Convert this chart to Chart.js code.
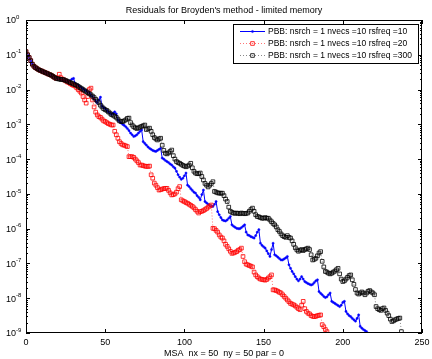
<!DOCTYPE html>
<html>
<head>
<meta charset="utf-8">
<script src="https://cdn.jsdelivr.net/npm/chart.js@4"></script>
<style>
  body { margin: 0; background: #fff; }
  canvas { display: block; }
</style>
</head>
<body>
<canvas id="resChart" width="432" height="359"></canvas>
<script>
// residual history, stored as log10(residual), one value per iteration
var logBlue = [
  -0.91,-1.00,-1.08,-1.17,-1.27,-1.33,-1.37,-1.40,-1.43,-1.45,-1.47,-1.49,-1.51,-1.53,-1.55,-1.57,-1.59,-1.62,-1.65,-1.68,-1.69,
  -1.70,-1.71,-1.72,-1.73,-1.74,-1.76,-1.78,-1.74,-1.70,-1.68,
  -1.82,-1.86,-1.88,-1.92,-1.95,-1.98,-2.01,-2.04,-2.07,-2.10,
  -2.15,-2.20,-2.27,-2.33,-2.38,-2.30,-2.22,-2.48,-2.52,-2.55,
  -2.60,-2.64,-2.68,-2.72,-2.68,-2.64,-2.70,-2.87,-2.92,-2.96,
  -3.00,-3.03,-3.07,-3.12,-3.18,-3.25,-3.30,-3.35,-3.33,-3.30,
  -3.25,-3.20,-3.16,-3.50,-3.55,-3.60,-3.65,-3.69,-3.72,-3.75,
  -3.77,-3.78,-3.75,-3.72,-3.69,-3.97,-4.00,-4.04,-4.07,-4.10,
  -4.14,-4.17,-4.22,-4.26,-4.35,-4.45,-4.52,-4.58,-4.55,-4.48,
  -4.40,-4.75,-4.79,-4.85,-4.90,-4.95,-4.98,-5.05,-5.10,-5.17,
  -5.02,-4.89,-5.22,-5.26,-5.30,-5.33,-5.36,-5.36,-5.30,-5.22,
  -5.51,-5.60,-5.68,-5.75,-5.77,-5.78,-5.75,-5.70,-5.65,-5.89,
  -5.93,-5.96,-5.99,-6.00,-6.00,-5.97,-5.93,-5.89,-6.10,-6.18,
  -6.20,-6.23,-6.25,-6.27,-6.20,-6.10,-6.03,-6.42,-6.48,-6.52,
  -6.56,-6.64,-6.72,-6.80,-6.60,-6.42,-6.75,-6.78,-6.82,-6.86,
  -6.90,-6.90,-6.87,-6.84,-6.80,-7.04,-7.14,-7.23,-7.30,-7.38,
  -7.45,-7.50,-7.45,-7.38,-7.45,-7.52,-7.55,-7.58,-7.60,-7.62,
  -7.60,-7.55,-7.50,-7.47,-7.81,-7.86,-7.90,-7.95,-7.98,-7.96,
  -7.90,-7.85,-8.09,-8.12,-8.15,-8.18,-8.21,-8.24,-8.20,-8.12,
  -8.09,-8.38,-8.45,-8.50,-8.53,-8.58,-8.62,-8.66,-8.58,-8.48,
  -8.81,-8.86,-8.90,-8.93,-8.96
];
var logRed = [
  -0.91,-1.00,-1.08,-1.17,-1.27,-1.33,-1.37,-1.40,-1.43,-1.45,-1.47,-1.49,-1.51,-1.53,-1.55,-1.57,-1.59,-1.62,-1.65,-1.68,-1.67,
  -1.56,-1.66,-1.70,-1.72,-1.75,-1.78,-1.80,-1.83,-1.86,-1.88,
  -1.90,-1.95,-2.00,-2.05,-2.10,-2.20,-2.30,-2.39,-2.20,-2.00,
  -1.96,-2.30,-2.50,-2.65,-2.73,-2.78,-2.80,-2.85,-2.90,-2.92,
  -2.95,-2.98,-3.00,-3.02,-3.02,-3.20,-3.30,-3.40,-3.50,-3.55,
  -3.59,-3.60,-3.62,-3.64,-3.93,-3.93,-3.93,-3.95,-4.00,-4.05,
  -4.10,-4.17,-4.17,-4.19,-4.20,-4.21,-4.21,-4.20,-4.45,-4.55,
  -4.69,-4.75,-4.82,-4.89,-4.88,-4.86,-4.85,-4.84,-4.84,-4.90,
  -4.97,-5.03,-5.02,-5.00,-4.95,-4.85,-4.79,-5.17,-5.20,-5.22,
  -5.25,-5.27,-5.30,-5.33,-5.36,-5.40,-5.45,-5.50,-5.55,-5.51,
  -5.50,-5.48,-5.45,-5.42,-5.38,-5.35,-5.32,-5.99,-6.00,-6.05,
  -6.10,-6.18,-6.24,-6.27,-6.35,-6.45,-6.51,-6.58,-6.65,-6.71,
  -6.70,-6.68,-6.66,-6.62,-6.60,-6.56,-6.80,-6.95,-7.02,-7.04,
  -7.06,-7.08,-7.10,-7.25,-7.33,-7.38,-7.42,-7.45,-7.46,-7.47,
  -7.48,-7.46,-7.42,-7.38,-7.33,-7.76,-7.76,-7.78,-7.80,-7.83,
  -7.85,-7.90,-7.95,-8.00,-8.05,-8.10,-8.15,-8.17,-8.19,-8.22,
  -8.26,-8.30,-8.33,-8.20,-8.09,-8.30,-8.38,-8.43,-8.45,-8.50,
  -8.52,-8.53,-8.52,-8.50,-8.49,-8.48,-8.76,-8.82,-8.90,-8.96
];
var logBlack = [
  -0.91,-1.00,-1.08,-1.17,-1.27,-1.33,-1.37,-1.40,-1.43,-1.45,-1.47,-1.49,-1.51,-1.53,-1.55,-1.57,-1.59,-1.62,-1.65,-1.68,-1.69,
  -1.70,-1.71,-1.71,-1.72,-1.74,-1.76,-1.78,-1.80,-1.82,-1.84,
  -1.86,-1.88,-1.91,-1.94,-1.97,-2.00,-2.03,-2.06,-2.09,-2.12,
  -2.15,-2.19,-2.23,-2.28,-2.33,-2.38,-2.45,-2.50,-2.55,-2.58,
  -2.60,-2.64,-2.68,-2.72,-2.74,-2.77,-2.80,-2.85,-2.90,-2.92,
  -2.92,-2.90,-2.87,-2.83,-2.82,-2.95,-3.02,-3.07,-3.10,-3.12,
  -3.10,-3.08,-3.06,-3.04,-3.02,-3.15,-3.13,-3.11,-3.20,-3.30,
  -3.38,-3.42,-3.45,-3.42,-3.40,-3.60,-3.75,-3.83,-3.85,-3.82,
  -3.78,-3.74,-3.90,-4.00,-4.07,-4.10,-4.12,-4.15,-4.18,-4.20,
  -4.22,-4.20,-4.17,-4.12,-4.25,-4.35,-4.40,-4.42,-4.42,-4.40,
  -4.50,-4.60,-4.70,-4.75,-4.80,-4.75,-4.70,-4.65,-4.93,-4.95,
  -4.97,-4.98,-4.98,-4.98,-5.05,-5.15,-5.22,-5.38,-5.50,-5.53,
  -5.55,-5.56,-5.55,-5.56,-5.57,-5.55,-5.56,-5.57,-5.56,-5.55,
  -5.50,-5.45,-5.41,-5.50,-5.60,-5.65,-5.66,-5.68,-5.70,-5.70,
  -5.68,-5.70,-5.70,-5.75,-5.80,-5.85,-5.89,-5.95,-6.03,-6.08,
  -6.15,-6.20,-6.23,-6.25,-6.20,-6.25,-6.27,-6.35,-6.45,-6.55,
  -6.61,-6.65,-6.62,-6.60,-6.63,-6.60,-6.58,-6.56,-6.60,-6.75,
  -6.90,-6.88,-6.85,-6.78,-6.70,-6.66,-6.94,-7.10,-7.23,-7.25,
  -7.28,-7.30,-7.28,-7.25,-7.22,-7.18,-7.14,-7.30,-7.45,-7.52,
  -7.50,-7.45,-7.40,-7.35,-7.33,-7.47,-7.60,-7.75,-7.85,-7.88,
  -7.85,-7.82,-7.85,-7.90,-7.85,-7.80,-7.78,-7.82,-7.85,-7.90,
  -8.24,-8.30,-8.33,-8.35,-8.30,-8.28,-8.35,-8.43,-8.50,-8.60,
  -8.67,-8.65,-8.62,-8.60,-8.58,-8.57,-8.96
];
var seriesLabels = [
  'PBB: nsrch = 1 nvecs =10 rsfreq =10',
  'PBB: nsrch = 1 nvecs =10 rsfreq =20',
  'PBB: nsrch = 1 nvecs =10 rsfreq =300'
];
var xTicks = [0, 50, 100, 150, 200, 250];
var yDecades = [0, -1, -2, -3, -4, -5, -6, -7, -8, -9];
var titleText = "Residuals for Broyden's method - limited memory";
var xLabelText = 'MSA  nx = 50  ny = 50 par = 0';

function toPoints(logs) {
  return logs.map(function (v, i) { return { x: i, y: Math.pow(10, v) }; });
}

var FONT = '"Liberation Sans", Arial, sans-serif';

// axes box, inward ticks, labels, title and legend in the old matlab look
var matlabFrame = {
  id: 'matlabFrame',
  afterDraw: function (chart) {
    var ctx = chart.ctx, a = chart.chartArea;
    var xs = chart.scales.x, ys = chart.scales.y;
    ctx.save();
    ctx.strokeStyle = '#000';
    ctx.lineWidth = 1;
    ctx.strokeRect(a.left + 0.5, a.top + 0.5, a.right - a.left - 1, a.bottom - a.top - 1);

    ctx.beginPath();
    xTicks.forEach(function (t) {
      var px = Math.round(xs.getPixelForValue(t)) + 0.5;
      ctx.moveTo(px, a.bottom); ctx.lineTo(px, a.bottom - 4);
      ctx.moveTo(px, a.top); ctx.lineTo(px, a.top + 4);
    });
    yDecades.forEach(function (d) {
      var py = Math.round(ys.getPixelForValue(Math.pow(10, d))) + 0.5;
      ctx.moveTo(a.left, py); ctx.lineTo(a.left + 4, py);
      ctx.moveTo(a.right, py); ctx.lineTo(a.right - 4, py);
      if (d > -9) {
        for (var m = 2; m <= 9; m++) {
          var pm = Math.round(ys.getPixelForValue(m * Math.pow(10, d - 1))) + 0.5;
          ctx.moveTo(a.left, pm); ctx.lineTo(a.left + 2, pm);
          ctx.moveTo(a.right, pm); ctx.lineTo(a.right - 2, pm);
        }
      }
    });
    ctx.stroke();

    ctx.fillStyle = '#000';
    ctx.font = '9px ' + FONT;
    ctx.textAlign = 'center';
    ctx.textBaseline = 'middle';
    xTicks.forEach(function (t) {
      ctx.fillText(String(t), xs.getPixelForValue(t), a.bottom + 10);
    });
    yDecades.forEach(function (d) {
      var py = ys.getPixelForValue(Math.pow(10, d));
      ctx.font = '9px ' + FONT;
      ctx.textAlign = 'right';
      ctx.fillText('10', 16, py + 1);
      ctx.font = '6px ' + FONT;
      ctx.textAlign = 'left';
      ctx.fillText(String(d), 16, py - 3);
    });

    ctx.font = '9px ' + FONT;
    ctx.textAlign = 'center';
    ctx.fillText(titleText, (a.left + a.right) / 2, 11);
    ctx.fillText(xLabelText, (a.left + a.right) / 2, 354);

    // legend box
    var lx = 233, ly = 24, lw = 185, lh = 39;
    ctx.fillStyle = '#fff';
    ctx.fillRect(lx, ly, lw, lh);
    ctx.strokeStyle = '#000';
    ctx.strokeRect(lx + 0.5, ly + 0.5, lw, lh);
    chart.data.datasets.forEach(function (ds, i) {
      var yy = ly + 7.5 + i * 12;
      ctx.save();
      ctx.strokeStyle = ds.borderColor;
      ctx.lineWidth = ds.borderWidth;
      ctx.setLineDash(ds.borderDash || []);
      ctx.beginPath();
      ctx.moveTo(240, yy); ctx.lineTo(265, yy);
      ctx.stroke();
      ctx.setLineDash([]);
      ctx.fillStyle = ds.pointBackgroundColor;
      ctx.strokeStyle = ds.pointBorderColor;
      ctx.lineWidth = ds.pointBorderWidth;
      ctx.beginPath();
      if (ds.pointStyle === 'rect') {
        var s = ds.pointRadius * Math.SQRT1_2;
        ctx.rect(252.5 - s, yy - s, 2 * s, 2 * s);
      } else {
        ctx.arc(252.5, yy, ds.pointRadius, 0, Math.PI * 2);
      }
      ctx.fill(); ctx.stroke();
      ctx.restore();
      ctx.fillStyle = '#000';
      ctx.font = '8.5px ' + FONT;
      ctx.textAlign = 'left';
      ctx.fillText(ds.label, 268, yy + 0.5);
    });
    ctx.restore();
  }
};

var ctx = document.getElementById('resChart').getContext('2d');
var resChart = new Chart(ctx, {
  type: 'line',
  data: {
    datasets: [{
      label: seriesLabels[0],
      data: toPoints(logBlue),
      borderColor: '#0000ff',
      borderWidth: 1,
      pointStyle: 'circle',
      pointRadius: 1.1,
      pointBorderWidth: 0.5,
      pointBackgroundColor: '#0000ff',
      pointBorderColor: '#0000ff',
      order: 3
    }, {
      label: seriesLabels[1],
      data: toPoints(logRed),
      borderColor: '#ff5050',
      borderWidth: 0.8,
      borderDash: [1, 2],
      pointStyle: 'rect',
      pointRadius: 2.6,
      pointBorderWidth: 0.8,
      pointBackgroundColor: 'rgba(255,255,255,0)',
      pointBorderColor: '#ff0000',
      order: 2
    }, {
      label: seriesLabels[2],
      data: toPoints(logBlack),
      borderColor: '#555555',
      borderWidth: 0.7,
      borderDash: [1, 2],
      pointStyle: 'rect',
      pointRadius: 2.6,
      pointBorderWidth: 0.8,
      pointBackgroundColor: 'rgba(255,255,255,0)',
      pointBorderColor: '#000000',
      order: 1
    }]
  },
  options: {
    responsive: false,
    animation: false,
    layout: { padding: { left: 26, right: 10, top: 20, bottom: 26 } },
    plugins: { legend: { display: false }, tooltip: { enabled: false } },
    scales: {
      x: { type: 'linear', min: 0, max: 250, display: false },
      y: { type: 'logarithmic', min: 1e-9, max: 1, display: false }
    }
  },
  plugins: [matlabFrame]
});
</script>
</body>
</html>
